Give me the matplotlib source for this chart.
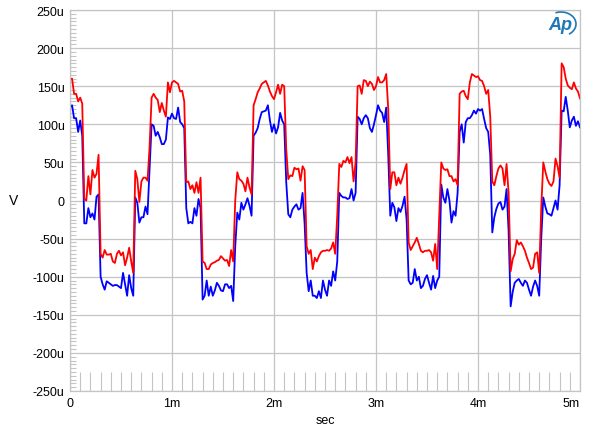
import numpy as np
import matplotlib
matplotlib.use("Agg")
import matplotlib.pyplot as plt
from matplotlib.ticker import MultipleLocator, FuncFormatter
from matplotlib.patches import Arc

plt.rcParams['font.family'] = ['Liberation Sans', 'DejaVu Sans']

# sample spacing of the captured traces (seconds)
dt = 0.02e-3

# channel 1 (red), microvolts
red_uv = [
    159, 160, 140, 140, 130, 135, 127, 2, 0, 32,
    8, 40, 30, 35, 60, -70, -75, -65, -71, -71,
    -70, -80, -82, -70, -66, -72, -68, -85, -75, -62,
    -80, -95, 39, 28, -2, 25, 30, 30, 26, 70,
    135, 140, 135, 132, 116, 128, 118, 110, 155, 142,
    155, 157, 155, 153, 143, 144, 130, 24, 25, 15,
    20, 10, 24, 10, 30, -80, -82, -90, -90, -84,
    -82, -81, -79, -78, -73, -76, -79, -78, -86, -65,
    -80, 0, 37, 28, 26, 22, 12, 30, 17, 8,
    125, 133, 142, 147, 153, 155, 157, 151, 143, 137,
    133, 142, 152, 140, 152, 150, 67, 28, 33, 32,
    43, 41, 42, 26, 45, 40, -60, -70, -65, -90,
    -75, -80, -73, -68, -66, -66, -65, -66, -63, -55,
    -70, -20, 48, 44, 52, 50, 57, 49, 57, 25,
    50, 150, 151, 140, 158, 157, 150, 156, 153, 145,
    150, 162, 155, 155, 158, 166, 120, 15, 37, 37,
    20, 30, 22, 30, 40, 48, -55, -65, -60, -55,
    -49, -57, -66, -68, -66, -66, -65, -68, -79, -57,
    -90, -20, 50, 42, 40, 41, 32, 32, 25, 28,
    20, 140, 143, 144, 137, 133, 155, 166, 164, 162,
    163, 158, 157, 150, 140, 145, 110, 25, 20, 32,
    42, 46, 42, 20, 48, 10, -93, -77, -70, -52,
    -58, -55, -60, -66, -75, -82, -90, -88, -70, -68,
    -95, -10, 50, 38, 28, 22, 19, 25, 55, 45,
    30, 180, 175, 160, 151, 148, 146, 155, 147, 143, 134,
]

# channel 2 (blue), microvolts
blue_uv = [
    122, 125, 108, 108, 90, 105, 85, -30, -30, -10,
    -22, -17, -25, 5, 8, -100, -110, -117, -106, -108,
    -110, -112, -111, -111, -113, -115, -95, -110, -125, -98,
    -115, -125, 4, -3, -29, -22, -22, -8, -18, 40,
    100, 98, 85, 90, 83, 74, 74, 80, 109, 107,
    114, 108, 107, 122, 103, 100, 95, -10, -30, -28,
    -30, -10, -20, 2, -10, -130, -125, -105, -125, -113,
    -125, -118, -108, -112, -118, -119, -110, -110, -115, -112,
    -132, -60, -16, -25, -3, -12, -5, 3, -7, -20,
    85, 89, 95, 107, 116, 117, 118, 125, 105, 90,
    100, 88, 96, 115, 105, 100, 24, -18, -22, -12,
    -8, -5, -12, -10, 10, -30, -95, -119, -105, -125,
    -125, -128, -119, -128, -105, -117, -125, -105, -112, -93,
    -105, -80, 10, 6, 4, 4, 2, 3, 15, 0,
    10, 110, 107, 100, 108, 112, 108, 95, 90, 100,
    112, 125, 118, 115, 103, 122, 60, -20, -3, -9,
    -27, -10, -15, -7, 5, -25, -105, -110, -108, -90,
    -105, -100, -115, -112, -103, -98, -108, -117, -99, -115,
    -105, -100, 21, 4, -3, 15, 0, -29, -14, -20,
    10, 90, 100, 76, 103, 108, 108, 112, 118, 114,
    120, 118, 120, 107, 95, 90, 60, -42, -22, -11,
    -4, -2, -12, -8, 15, -40, -139, -120, -108, -105,
    -103, -108, -112, -105, -108, -117, -125, -113, -105, -112,
    -125, -50, 4, -8, -17, -18, -20, -10, 0, -12,
    20, 118, 117, 136, 118, 96, 105, 110, 98, 104, 96,
]

t = np.arange(len(red_uv)) * dt
red = np.array(red_uv) * 1e-6
blue = np.array(blue_uv) * 1e-6

fig = plt.figure(figsize=(6.0, 4.39), dpi=100)
ax = fig.add_axes([70 / 600, 1 - 392 / 439, 510 / 600, 381 / 439])

ax.plot(t, blue, color='#0000ff', lw=1.3)
ax.plot(t, red, color='#ff0000', lw=1.3)

ax.set_xlim(0, 5e-3)
ax.set_ylim(-250e-6, 250e-6)

def fmt_y(v, pos):
    n = int(round(v * 1e6))
    return "0" if n == 0 else f"{n}u"

def fmt_x(v, pos):
    n = int(round(v * 1e3))
    if n == 5:
        return ""  # drawn separately, right-aligned to the frame
    return "0" if n == 0 else f"{n}m"

ax.xaxis.set_major_locator(MultipleLocator(1e-3))
ax.xaxis.set_minor_locator(MultipleLocator(0.1e-3))
ax.yaxis.set_major_locator(MultipleLocator(50e-6))
ax.yaxis.set_minor_locator(MultipleLocator(5e-6))
ax.xaxis.set_major_formatter(FuncFormatter(fmt_x))
ax.yaxis.set_major_formatter(FuncFormatter(fmt_y))

ax.grid(True, which='major', color='#c4c4c4', lw=0.9)
ax.tick_params(which='major', length=0, labelsize=9, pad=4)
ax.tick_params(axis='x', which='minor', direction='in', length=14, color='#c4c4c4', width=0.8)
ax.tick_params(axis='y', which='minor', direction='in', length=4, color='#c4c4c4', width=0.8)
for s in ax.spines.values():
    s.set_color('#c4c4c4')
    s.set_linewidth(0.9)

# last x label sits flush with the right edge of the frame
ax.text(1.0, -5.6 / 381, "5m", transform=ax.transAxes, ha='right', va='top',
        fontsize=9)

fig.text(325 / 600, 1 - 421 / 439, "sec", fontsize=9, ha='center', va='center')
fig.text(14 / 600, 1 - 201 / 439, "V", fontsize=10, ha='center', va='center')

# AP logo
fig.text(560 / 600, 1 - 26 / 439, "Ap", color='#1f78b8', fontsize=13,
         fontstyle='italic', fontweight='bold', ha='center', va='center')
logo = Arc((561 / 600, 1 - 25 / 439), 30 / 600, 24 / 439, angle=0,
           theta1=-60, theta2=110, color='#1f78b8', lw=1.2,
           transform=fig.transFigure)
fig.patches.append(logo)

fig.savefig("out.png", dpi=100)
